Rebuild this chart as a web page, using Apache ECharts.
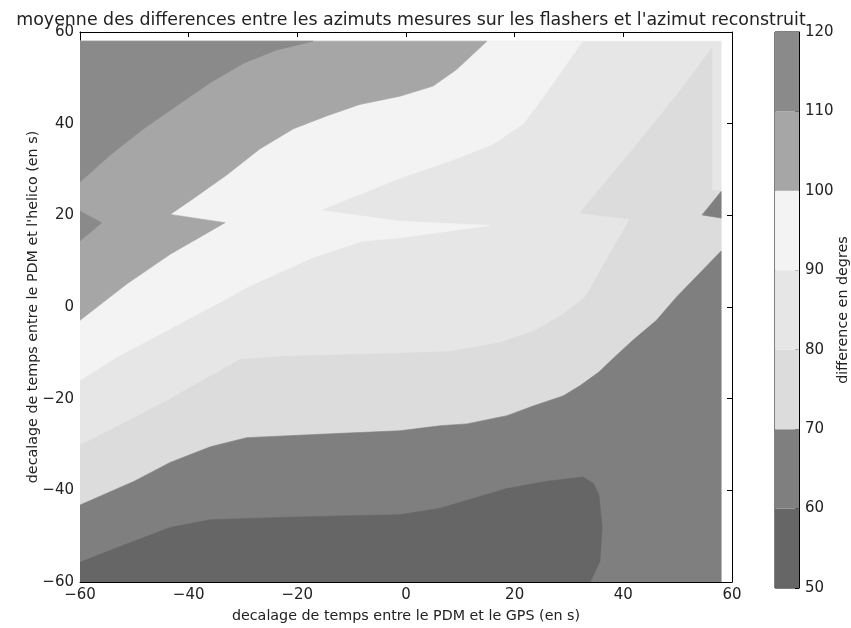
<!DOCTYPE html>
<html><head><meta charset="utf-8">
<script src="https://cdn.jsdelivr.net/npm/echarts@6/dist/echarts.min.js"></script>
<style>html,body{margin:0;padding:0;background:#fff}#c{width:851px;height:628px}</style>
</head><body><div id="c"></div>
<script>
// ---- data ----
const titleText = "moyenne des differences entre les azimuts mesures sur les flashers et l'azimut reconstruit";
const xName = "decalage de temps entre le PDM et le GPS (en s)";
const yName = "decalage de temps entre le PDM et l'helico (en s)";
const cbName = "difference en degres";
const axisTicks = [-60, -40, -20, 0, 20, 40, 60];
const levels = [50, 60, 70, 80, 90, 100, 110, 120];
const bandColors = ['#666666', '#7f7f7f', '#dcdcdc', '#e6e6e6', '#f3f3f3', '#a6a6a6', '#8a8a8a'];

// filled contour regions, vertices in data units [x, y]
const region_80_90 = [[-60,-60],[58,-60],[58,58],[-60,58]];
const region_90_100 = [[-60,-16],[-53,-10.8],[-41.6,-3.6],[-32.4,2.2],[-29.3,4.3],[-17.1,10.8],[-7.9,14.4],[-1.1,15.1],[15.5,17.8],[-1.1,18.7],[-15.8,21.1],[-1.1,28.1],[9.3,32.4],[16,35.5],[21.6,40],[26,47],[32.5,58],[-60,58]];
const region_100_110 = [[-60,-2.9],[-51.4,5.0],[-43.4,11.5],[-33.3,18.4],[-43.4,20.2],[-39.1,23.7],[-33,28.8],[-26.9,34.5],[-20.7,38.9],[-14.6,41.7],[-8.5,44.2],[-1.1,46],[5,48.2],[9.3,51.8],[14.9,58],[-60,58]];
const region_110_120 = [[-60,27.3],[-54.5,33.1],[-48.3,38.9],[-42.2,43.9],[-36.1,48.9],[-29.9,53.2],[-23.8,56.1],[-17.1,58],[-60,58]];
const region_110_120_notch = [[-60,20.9],[-56,18.4],[-60,14.4]];
const region_70_80 = [[-60,-60],[-60,-30],[-58.8,-29.5],[-44.7,-20.9],[-30.6,-11.5],[-23.2,-10.8],[-1.1,-10.1],[8.1,-9.7],[17.3,-7.8],[24,-5],[29,-1.5],[33,2.2],[41.2,19.2],[32,20.5],[41.8,34.5],[50,46.5],[56.3,56.5],[56.3,25.5],[58,25.3],[58,-60]];
const region_60_70 = [[-60,-60],[-60,-43.2],[-50,-38],[-43.4,-33.9],[-36,-30.5],[-29.3,-28.5],[-12.7,-27.6],[-1.1,-27],[6.3,-25.9],[11.2,-25.5],[18.6,-23.7],[23.4,-21.6],[28.9,-19.4],[32,-17.2],[35.5,-14.2],[38.5,-10.8],[41.8,-7.2],[46.1,-2.9],[49.8,2.2],[58,12.2],[58,-60]];
const region_60_70_notch = [[58,25.2],[54.5,20.1],[58,19.4]];
const region_50_60 = [[-60,-60],[-60,-55.7],[-52,-52],[-43.4,-48.1],[-36,-46.4],[-20,-45.8],[-1.1,-45.3],[6.3,-43.9],[18.6,-39.6],[26,-38],[32.6,-37.1],[34.5,-38.5],[35.5,-41],[36.1,-48.1],[35.7,-55.4],[33.9,-60]];

// painter's order: [polygon, band index]
const regions = [
  [region_80_90, 3], [region_90_100, 4], [region_100_110, 5], [region_110_120, 6],
  [region_110_120_notch, 6], [region_70_80, 2], [region_60_70, 1], [region_60_70_notch, 1],
  [region_50_60, 0]
];

const FONT = 'DejaVu Sans';
const TXT = '#222';
const minus = v => String(v).replace('-', '\u2212');

const chart = echarts.init(document.getElementById('c'), null, {renderer: 'canvas'});
const frameAxis = {lineStyle: {color: '#000', width: 1}, onZero: false};
const tickIn = {inside: true, length: 5, lineStyle: {color: '#000', width: 1}};

chart.setOption({
  animation: false,
  backgroundColor: '#fff',
  title: {
    text: titleText, left: 406, top: 7, textAlign: 'center',
    textStyle: {fontFamily: FONT, fontSize: 17.4, fontWeight: 'normal', color: TXT}
  },
  grid: [
    {left: 80, top: 32, width: 652, height: 556, show: false},
    {left: 775, top: 32, width: 28, height: 556, show: true, borderColor: '#000', borderWidth: 1, backgroundColor: 'transparent'}
  ],
  xAxis: [
    {gridIndex: 0, type: 'value', min: -60, max: 60, interval: 20, position: 'bottom',
     axisLine: frameAxis, axisTick: tickIn, splitLine: {show: false},
     axisLabel: {fontFamily: FONT, fontSize: 15, color: TXT, margin: 6, formatter: minus, showMinLabel: true, showMaxLabel: true},
     name: xName, nameLocation: 'middle', nameGap: 27, nameMoveOverlap: false,
     nameTextStyle: {fontFamily: FONT, fontSize: 14.3, color: TXT}},
    {gridIndex: 0, type: 'value', min: -60, max: 60, interval: 20, position: 'top',
     axisLine: frameAxis, axisTick: tickIn, splitLine: {show: false}, axisLabel: {show: false}},
    {gridIndex: 1, type: 'value', min: 0, max: 1, show: false}
  ],
  yAxis: [
    {gridIndex: 0, type: 'value', min: -60, max: 60, interval: 20, position: 'left',
     axisLine: frameAxis, axisTick: tickIn, splitLine: {show: false},
     axisLabel: {fontFamily: FONT, fontSize: 15, color: TXT, margin: 6, formatter: minus, showMinLabel: true, showMaxLabel: true},
     name: yName, nameLocation: 'middle', nameGap: 40, nameMoveOverlap: false,
     nameTextStyle: {fontFamily: FONT, fontSize: 14.3, color: TXT}},
    {gridIndex: 0, type: 'value', min: -60, max: 60, interval: 20, position: 'right',
     axisLine: frameAxis, axisTick: tickIn, splitLine: {show: false}, axisLabel: {show: false}},
    {gridIndex: 1, type: 'value', min: levels[0], max: levels[levels.length - 1], interval: 10, position: 'right',
     axisLine: frameAxis, axisTick: {inside: true, length: 4, lineStyle: {color: '#000'}}, splitLine: {show: false},
     axisLabel: {fontFamily: FONT, fontSize: 15, color: TXT, margin: 6, showMinLabel: true, showMaxLabel: true},
     name: cbName, nameLocation: 'middle', nameGap: 37, nameMoveOverlap: false,
     nameTextStyle: {fontFamily: FONT, fontSize: 14.3, color: TXT}}
  ],
  series: [
    {
      type: 'custom', xAxisIndex: 0, yAxisIndex: 0, clip: true,
      data: regions.map((r, i) => [r[0][0][0], r[0][0][1], i]),
      encode: {x: 0, y: 1},
      renderItem: function (params, api) {
        const r = regions[api.value(2)];
        const pts = r[0].map(p => api.coord(p));
        const col = bandColors[r[1]];
        return {type: 'polygon', shape: {points: pts}, style: {fill: col, stroke: col, lineWidth: 0.6}};
      }
    },
    {
      type: 'custom', xAxisIndex: 2, yAxisIndex: 2, clip: false,
      data: bandColors.map((c, i) => [0, levels[i], levels[i + 1], i]),
      encode: {x: 0, y: [1, 2]},
      renderItem: function (params, api) {
        const a = api.coord([0, api.value(2)]);
        const b = api.coord([1, api.value(1)]);
        return {type: 'rect', shape: {x: a[0], y: a[1], width: b[0] - a[0], height: b[1] - a[1]},
                style: {fill: bandColors[api.value(3)]}};
      }
    }
  ]
});
</script>
</body></html>
